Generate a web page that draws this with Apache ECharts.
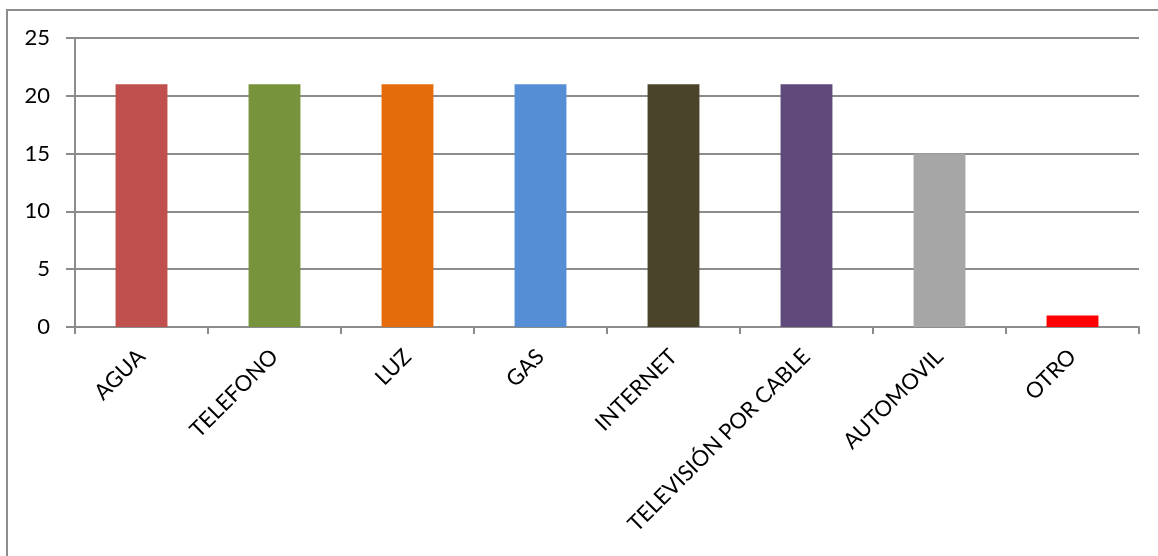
<!DOCTYPE html>
<html>
<head>
<meta charset="utf-8">
<script src="https://cdn.jsdelivr.net/npm/echarts@6/dist/echarts.min.js"></script>
<style>
  html, body { margin: 0; padding: 0; background: #fff; }
  #chart { width: 1158px; height: 556px; }
</style>
</head>
<body>
<div id="chart"></div>
<script>
// Services and their counts
const categories = ['AGUA', 'TELEFONO', 'LUZ', 'GAS', 'INTERNET', 'TELEVISIÓN POR CABLE', 'AUTOMOVIL', 'OTRO'];
const values = [21, 21, 21, 21, 21, 21, 15, 1];
const barColors = ['#C0504D', '#77933C', '#E46C0A', '#558ED5', '#4A452A', '#604A7B', '#A6A6A6', '#FF0000'];
const yTicks = [0, 5, 10, 15, 20, 25];

const chart = echarts.init(document.getElementById('chart'));
const gridColor = '#8c8c8c';
const fontFamily = 'Lato, "Open Sans", sans-serif';

chart.setOption({
  animation: false,
  graphic: [{
    type: 'rect',
    shape: { x: 7, y: 10, width: 1170, height: 570 },
    style: { fill: 'none', stroke: gridColor, lineWidth: 2 },
    z: -1
  }],
  grid: { left: 75, right: 19, top: 38, bottom: 229 },
  xAxis: {
    type: 'category',
    data: categories,
    axisLine: { lineStyle: { color: gridColor, width: 2 } },
    axisTick: { show: true, length: 7, lineStyle: { color: gridColor, width: 2 } },
    axisLabel: {
      rotate: 45,
      interval: 0,
      margin: 26,
      color: '#000',
      fontSize: 22,
      fontFamily: fontFamily
    }
  },
  yAxis: {
    type: 'value',
    min: yTicks[0],
    max: yTicks[yTicks.length - 1],
    interval: 5,
    axisLine: { show: true, lineStyle: { color: gridColor, width: 2 } },
    axisTick: { show: true, length: 9, lineStyle: { color: gridColor, width: 2 } },
    splitLine: { lineStyle: { color: gridColor, width: 2 } },
    axisLabel: {
      color: '#000',
      fontSize: 22,
      margin: 25,
      fontFamily: fontFamily
    }
  },
  series: [{
    type: 'bar',
    barWidth: '39%',
    data: values.map((v, i) => ({ value: v, itemStyle: { color: barColors[i] } }))
  }]
});
</script>
</body>
</html>
